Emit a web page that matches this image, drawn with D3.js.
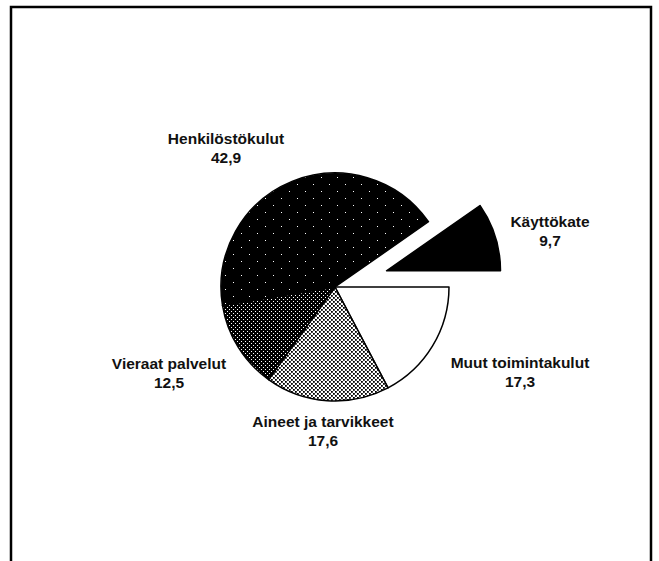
<!DOCTYPE html>
<html>
<head>
<meta charset="utf-8">
<script src="https://cdn.jsdelivr.net/npm/d3@7"></script>
<style>
  html, body { margin: 0; padding: 0; background: #fff; }
  svg { display: block; }
  .label { font-family: "Liberation Sans", Arial, sans-serif; font-weight: bold; font-size: 15.5px; fill: #111; }
</style>
</head>
<body>
<svg id="chart" width="659" height="561"></svg>
<script>
// Cost structure shares (%), clockwise from 3 o'clock
const categories = ['Muut toimintakulut', 'Aineet ja tarvikkeet', 'Vieraat palvelut', 'Henkilöstökulut', 'Käyttökate'];
const values = [17.3, 17.6, 12.5, 42.9, 9.7];

// fill pattern per slice and which slice is pulled out
const fills = ['#fff', 'url(#dotsLight)', 'url(#dotsDark)', 'url(#speckle)', '#000'];
const exploded = 'Käyttökate';

// label anchor points (centre x, baseline of first line)
const labelPos = {
  'Muut toimintakulut': [520, 368],
  'Aineet ja tarvikkeet': [323, 427],
  'Vieraat palvelut': [169, 369],
  'Henkilöstökulut': [226, 144],
  'Käyttökate': [550, 227]
};

const svg = d3.select('#chart');
const cx = 335, cy = 287, r = 114, pull = 54;

// patterns that imitate the screened fills of the print
const defs = svg.append('defs');

const light = defs.append('pattern').attr('id', 'dotsLight')
  .attr('patternUnits', 'userSpaceOnUse').attr('width', 4).attr('height', 4);
light.append('rect').attr('width', 4).attr('height', 4).attr('fill', '#fff');
light.append('rect').attr('x', 0).attr('y', 0).attr('width', 1.8).attr('height', 1.8).attr('fill', '#000');
light.append('rect').attr('x', 2).attr('y', 2).attr('width', 1.8).attr('height', 1.8).attr('fill', '#000');

const dark = defs.append('pattern').attr('id', 'dotsDark')
  .attr('patternUnits', 'userSpaceOnUse').attr('width', 4).attr('height', 4);
dark.append('rect').attr('width', 4).attr('height', 4).attr('fill', '#000');
dark.append('rect').attr('x', 0).attr('y', 0).attr('width', 1).attr('height', 1).attr('fill', '#fff');
dark.append('rect').attr('x', 2).attr('y', 2).attr('width', 1).attr('height', 1).attr('fill', '#fff');

const speck = defs.append('pattern').attr('id', 'speckle')
  .attr('patternUnits', 'userSpaceOnUse').attr('width', 16).attr('height', 14);
speck.append('rect').attr('width', 16).attr('height', 14).attr('fill', '#000');
[[2, 2], [10, 9]].forEach(([x, y]) => {
  speck.append('rect').attr('x', x).attr('y', y).attr('width', 1).attr('height', 1).attr('fill', '#fff');
});

// frame (bottom edge runs off the page)
svg.append('rect')
  .attr('x', 11).attr('y', 7)
  .attr('width', 640).attr('height', 620)
  .attr('fill', 'none').attr('stroke', '#000').attr('stroke-width', 2.5);

const data = categories.map((c, i) => ({ name: c, value: values[i], fill: fills[i] }));

const pie = d3.pie()
  .value(d => d.value)
  .sort(null)
  .startAngle(Math.PI / 2)
  .endAngle(Math.PI / 2 + 2 * Math.PI);

const arc = d3.arc().innerRadius(0).outerRadius(r);

const g = svg.append('g').attr('transform', `translate(${cx},${cy})`);

g.selectAll('path')
  .data(pie(data))
  .enter()
  .append('path')
  .attr('d', arc)
  .attr('fill', d => d.data.fill)
  .attr('stroke', '#000')
  .attr('stroke-width', 1.5)
  .attr('stroke-linejoin', 'round')
  .attr('transform', d => {
    if (d.data.name !== exploded) return null;
    const a = (d.startAngle + d.endAngle) / 2;
    return `translate(${Math.sin(a) * pull},${-Math.cos(a) * pull})`;
  });

// labels: name on first line, value below
const fmt = v => d3.format('.1f')(v).replace('.', ',');

const labels = svg.selectAll('text.label')
  .data(data)
  .enter()
  .append('text')
  .attr('class', 'label')
  .attr('text-anchor', 'middle')
  .attr('x', d => labelPos[d.name][0])
  .attr('y', d => labelPos[d.name][1]);

labels.append('tspan').text(d => d.name);
labels.append('tspan')
  .attr('x', d => labelPos[d.name][0])
  .attr('dy', 19)
  .text(d => fmt(d.value));
</script>
</body>
</html>
